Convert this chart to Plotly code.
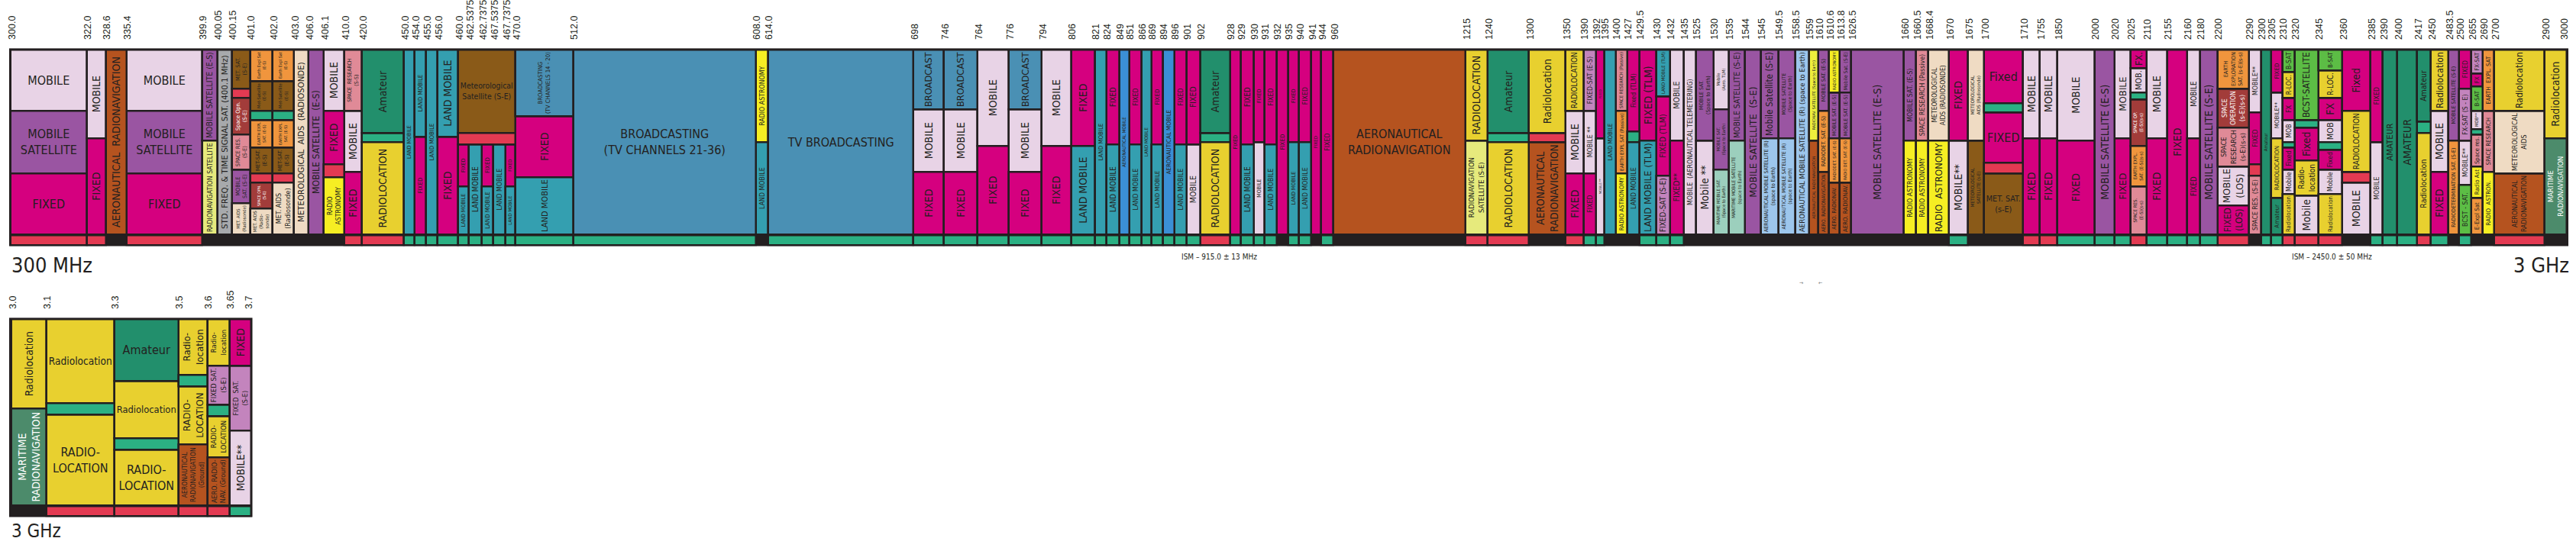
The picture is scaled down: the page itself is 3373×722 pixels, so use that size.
import plotly.graph_objects as go

# Each column: (frequency at its left edge, relative span on the chart, bottom strip, services top -> bottom)
# Each service: (label, service key, share of the column height in %)
# A label "=" continues the cell of the column to the left.

band_300_470 = [
    ("300.0", 100, "red", [("MOBILE", "mobile", 33), ("MOBILE<br>SATELLITE", "mobsat", 34), ("FIXED", "fixed", 33)]),
    ("322.0", 25, "red", [("MOBILE", "mobile", 48), ("FIXED", "fixed", 52)]),
    ("328.6", 27, "none", [("AERONAUTICAL  RADIONAVIGATION", "aeronav", 100)]),
    ("335.4", 99, "red", [("MOBILE", "mobile", 33), ("MOBILE<br>SATELLITE", "mobsat", 34), ("FIXED", "fixed", 33)]),
    ("399.9", 20, "none", [("MOBILE SATELLITE (E-S)", "mobsat", 49), ("RADIONAVIGATION SATELLITE", "radnavsat", 51)]),
    ("400.05", 19, "none", [("STD. FREQ. &amp; TIME SIGNAL SAT. (400.1 MHz)", "stdfreq", 100)]),
    ("400.15", 24, "none", [("MET. SAT.<br>(S-E)", "metsat", 21), ("", "red", 5), ("Space Opn.<br>(S-E)", "spaceop", 20),
                            ("SPACE RES.<br>(S-E)", "spaceres", 19), ("MOBILE<br>SAT. (S-E)", "mobsat", 18),
                            ("MET. AIDS<br>(Radiosonde)", "metaids", 17)]),
    ("401.0", 30, "none", [("Earth Expl Sat<br>(E-S)", "eess", 17), ("Met-Satellite<br>(E-S)", "metsat", 16), ("", "green", 5),
                           ("EARTH EXPL<br>SAT. (E-S)", "eess", 15), ("MET-SAT.<br>(E-S)", "metsat", 14), ("", "red", 5),
                           ("SPACE OPN.<br>(S-E)", "spaceop", 14), ("MET. AIDS<br>(Radio-<br>sonde)", "metaids", 14)]),
    ("402.0", 28, "none", [("Earth Expl Sat<br>(E-S)", "eess", 17), ("Met-Satellite<br>(E-S)", "metsat", 16), ("", "green", 5),
                           ("EARTH EXPL.<br>SAT. (E-S)", "eess", 15), ("MET-SAT.<br>(E-S)", "metsat", 14), ("", "red", 5),
                           ("MET. AIDS<br>(Radiosonde)", "metaids", 28)]),
    ("403.0", 19, "none", [("METEOROLOGICAL  AIDS  (RADIOSONDE)", "metaids", 100)]),
    ("406.0", 20, "none", [("MOBILE SATELLITE  (E-S)", "mobsat", 100)]),
    ("406.1", 27, "none", [("MOBILE", "mobile", 33), ("FIXED", "fixed", 29), ("", "red", 7), ("RADIO<br>ASTRONOMY", "radioastro", 31)]),
    ("410.0", 23, "red", [("SPACE  RESEARCH<br>(S-S)", "spaceres", 33), ("MOBILE", "mobile", 33), ("FIXED", "fixed", 34)]),
    ("420.0", 55, "red", [("Amateur", "amateur", 45), ("", "green", 5), ("RADIOLOCATION", "radioloc", 50)]),
    ("450.0", 14, "green", [("LAND MOBILE", "landmob", 100)]),
    ("454.0", 15, "green", [("LAND MOBILE", "landmob", 47), ("FIXED", "fixed", 53)]),
    ("455.0", 15, "green", [("LAND MOBILE", "landmob", 100)]),
    ("456.0", 27, "green", [("LAND MOBILE", "landmob", 47), ("FIXED", "fixed", 53)]),
    ("460.0", 14, "green", [("Meteorological<br>Satellite (S-E)", "metsat", 45), ("", "red", 6), ("FIXED", "fixed", 23), ("LAND MOBILE", "landmob", 26)]),
    ("462.5375", 17, "green", [("=", "metsat", 45), ("=", "red", 6), ("LAND MOBILE", "landmob", 49)]),
    ("462.7375", 15, "green", [("=", "metsat", 45), ("=", "red", 6), ("FIXED", "fixed", 23), ("LAND MOBILE", "landmob", 26)]),
    ("467.5375", 16, "green", [("=", "metsat", 45), ("=", "red", 6), ("LAND MOBILE", "landmob", 49)]),
    ("467.7375", 13, "green", [("=", "metsat", 45), ("=", "red", 6), ("FIXED", "fixed", 23), ("LAND MOBILE", "landmob", 26)]),
]

band_470_960 = [
    ("470.0", 76, "green", [("BROADCASTING<br>(TV CHANNELS 14 - 20)", "bcast", 36), ("FIXED", "fixed", 33), ("LAND MOBILE", "landmob", 31)]),
    ("512.0", 239, "green", [("BROADCASTING<br>(TV CHANNELS 21-36)", "bcast", 100)]),
    ("608.0", 16, "none", [("RADIO ASTRONOMY", "radioastro", 50), ("LAND MOBILE", "landmob", 50)]),
    ("614.0", 191, "green", [("TV BROADCASTING", "bcast", 100)]),
    ("698", 40, "green", [("BROADCAST", "bcast", 32), ("MOBILE", "mobile", 34), ("FIXED", "fixed", 34)]),
    ("746", 44, "green", [("BROADCAST", "bcast", 32), ("MOBILE", "mobile", 34), ("FIXED", "fixed", 34)]),
    ("764", 41, "green", [("MOBILE", "mobile", 52), ("FIXED", "fixed", 48)]),
    ("776", 43, "green", [("BROADCAST", "bcast", 32), ("MOBILE", "mobile", 34), ("FIXED", "fixed", 34)]),
    ("794", 39, "green", [("MOBILE", "mobile", 52), ("FIXED", "fixed", 48)]),
    ("806", 31, "green", [("FIXED", "fixed", 52), ("LAND MOBILE", "landmob", 48)]),
    ("821", 15, "green", [("LAND MOBILE", "landmob", 100)]),
    ("824", 17, "green", [("FIXED", "fixed", 51), ("LAND MOBILE", "landmob", 49)]),
    ("849", 13, "green", [("AERONAUTICAL MOBILE", "aeromob", 100)]),
    ("851", 16, "green", [("FIXED", "fixed", 51), ("LAND MOBILE", "landmob", 49)]),
    ("866", 13, "green", [("LAND MOBILE", "landmob", 100)]),
    ("869", 15, "green", [("FIXED", "fixed", 51), ("LAND MOBILE", "landmob", 49)]),
    ("894", 15, "green", [("AERONAUTICAL MOBILE", "aeromob", 100)]),
    ("896", 16, "green", [("FIXED", "fixed", 51), ("LAND MOBILE", "landmob", 49)]),
    ("901", 18, "green", [("FIXED", "fixed", 51), ("MOBILE", "mobile", 49)]),
    ("902", 39, "red", [("Amateur", "amateur", 45), ("", "green", 5), ("RADIOLOCATION", "radioloc", 50)]),
    ("928", 14, "green", [("FIXED", "fixed", 100)]),
    ("929", 17, "green", [("FIXED", "fixed", 51), ("LAND MOBILE", "landmob", 49)]),
    ("930", 14, "green", [("FIXED", "fixed", 50), ("MOBILE", "mobile", 50)]),
    ("931", 16, "green", [("FIXED", "fixed", 51), ("LAND MOBILE", "landmob", 49)]),
    ("932", 15, "none", [("FIXED", "fixed", 100)]),
    ("935", 15, "green", [("FIXED", "fixed", 50), ("LAND MOBILE", "landmob", 50)]),
    ("940", 16, "green", [("FIXED", "fixed", 50), ("LAND MOBILE", "landmob", 50)]),
    ("941", 13, "none", [("FIXED", "fixed", 100)]),
    ("944", 16, "green", [("FIXED", "fixed", 100)]),
]

band_960_1710 = [
    ("960", 173, "none", [("AERONAUTICAL<br>RADIONAVIGATION", "aeronav", 100)]),
    ("1215", 29, "red", [("RADIOLOCATION", "radioloc", 49), ("RADIONAVIGATION<br>SATELLITE (S-E)", "radnavsat", 51)]),
    ("1240", 54, "red", [("Amateur", "amateur", 45), ("", "green", 5), ("RADIOLOCATION", "radioloc", 50)]),
    ("1300", 48, "none", [("Radiolocation", "radioloc", 45), ("", "red", 5), ("AERONAUTICAL<br>RADIONAVIGATION", "aeronav", 50)]),
    ("1350", 24, "red", [("RADIOLOCATION", "radioloc", 33), ("MOBILE", "mobile", 34), ("FIXED", "fixed", 33)]),
    ("1390", 16, "green", [("FIXED-SAT (E-S)", "fxsat", 33), ("MOBILE **", "mobile", 34), ("FIXED", "fixed", 33)]),
    ("1392", 11, "green", [("FIXED", "fixed", 48), ("MOBILE **", "mobile", 52)]),
    ("1395", 15, "none", [("LAND MOBILE", "landmob", 100)]),
    ("1400", 15, "none", [("SPACE RESEARCH (Passive)", "spaceres", 33), ("EARTH EXPL SAT (Passive)", "eess", 34), ("RADIO ASTRONOMY", "radioastro", 33)]),
    ("1427", 16, "none", [("Fixed (TLM)", "fixed", 44), ("", "green", 6), ("LAND MOBILE", "landmob", 50)]),
    ("1429.5", 22, "green", [("FIXED (TLM)", "fixed", 49), ("LAND MOBILE (TLM)", "landmob", 51)]),
    ("1430", 18, "green", [("LAND MOBILE (TLM)", "landmob", 25), ("FIXED (TLM)", "fixed", 43), ("FIXED-SAT (S-E)", "fxsat", 32)]),
    ("1432", 18, "green", [("MOBILE", "mobile", 49), ("FIXED**", "fixed", 51)]),
    ("1435", 16, "none", [("MOBILE  (AERONAUTICAL TELEMETERING)", "mobile", 100)]),
    ("1525", 23, "none", [("MOBILE SAT.<br>(Space to Earth)", "mobsat", 49), ("Mobile **", "mobile", 51)]),
    ("1530", 20, "none", [("Mobile<br>(Aero. TLM)", "mobile", 32), ("MOBILE SAT.<br>(Space to Earth)", "mobsat", 33),
                          ("MARITIME MOBILE SAT.<br>(Space to Earth)", "marmobsat", 35)]),
    ("1535", 21, "none", [("MOBILE SATELLITE (S-E)", "mobsat", 49), ("MARITIME MOBILE SATELLITE<br>(space to Earth)", "marmobsat", 51)]),
    ("1544", 21, "none", [("MOBILE SATELLITE  (S-E)", "mobsat", 100)]),
    ("1545", 23, "none", [("Mobile Satellite (S-E)", "mobsat", 48), ("AERONAUTICAL MOBILE SATELLITE (R)<br>(space to Earth)", "aeromobsat", 52)]),
    ("1549.5", 22, "none", [("MOBILE SATELLITE<br>(Space to Earth)", "mobsat", 48), ("AERONAUTICAL MOBILE SATELLITE (R)<br>(space to Earth)", "aeromobsat", 52)]),
    ("1558.5", 18, "none", [("AERONAUTICAL MOBILE SATELLITE (R) (space to Earth)", "aeromobsat", 100)]),
    ("1559", 13, "none", [("RADIONAV. SATELLITE (Space to Earth)", "radnavsat2", 49), ("AERONAUTICAL RADIONAVIGATION", "aeronav", 51)]),
    ("1610", 14, "none", [("MOBILE SAT. (E-S)", "mobsat", 33), ("RADIODET. SAT. (E-S)", "eess", 33), ("AERO. RADIONAVIGATION", "aeronav", 34)]),
    ("1610.6", 14, "none", [("RADIO ASTRONOMY", "radioastro", 23), ("MOBILE SAT. (E-S)", "mobsat", 25),
                            ("RADIODET. SAT. (E-S)", "eess", 24), ("AERO. RADIONAV.", "aeronav", 28)]),
    ("1613.8", 15, "none", [("Mobile Sat. (S-E)", "mobsat", 23), ("MOBILE SAT. (E-S)", "mobsat", 25),
                            ("RADIO DET. SAT. (E-S)", "eess", 24), ("AERO. RADIONAV.", "aeronav", 28)]),
    ("1626.5", 69, "none", [("MOBILE SATELLITE (E-S)", "mobsat", 100)]),
    ("1660", 16, "none", [("MOBILE SAT. (E-S)", "mobsat", 49), ("RADIO ASTRONOMY", "radioastro", 51)]),
    ("1660.5", 16, "none", [("SPACE RESEARCH (Passive)", "spaceres", 49), ("RADIO ASTRONOMY", "radioastro", 51)]),
    ("1668.4", 27, "none", [("METEOROLOGICAL<br>AIDS (RADIOSONDE)", "metaids", 49), ("RADIO  ASTRONOMY", "radioastro", 51)]),
    ("1670", 25, "green", [("FIXED", "fixed", 49), ("MOBILE**", "mobile", 51)]),
    ("1675", 21, "none", [("METEOROLOGICAL<br>AIDS (Radiosonde)", "metaids", 49), ("METEOROLOGICAL<br>SATELLITE (s-E)", "metsat", 51)]),
    ("1700", 51, "none", [("Fixed", "fixed", 29), ("", "green", 5), ("FIXED", "fixed", 27), ("", "red", 6), ("MET. SAT.<br>(s-E)", "metsat", 33)]),
]

band_1710_3000 = [
    ("1710", 22, "red", [("MOBILE", "mobile", 48), ("FIXED", "fixed", 52)]),
    ("1755", 23, "red", [("MOBILE", "mobile", 48), ("FIXED", "fixed", 52)]),
    ("1850", 49, "green", [("MOBILE", "mobile", 49), ("FIXED", "fixed", 51)]),
    ("2000", 26, "green", [("MOBILE SATELLITE (E-S)", "mobsat", 100)]),
    ("2020", 21, "green", [("MOBILE", "mobile", 48), ("FIXED", "fixed", 52)]),
    ("2025", 21, "red", [("FX.", "fixed", 10), ("MOB.", "mobile", 13), ("", "green", 4), ("SPACE OP.<br>(E-S)(s-s)", "spaceop", 25),
                         ("EARTH EXPL.<br>SAT. (E-S)(s-s)", "eess", 22), ("SPACE RES.<br>(E-S)(s-s)", "spaceres", 26)]),
    ("2110", 27, "green", [("MOBILE", "mobile", 48), ("FIXED", "fixed", 52)]),
    ("2155", 26, "green", [("FIXED", "fixed", 100)]),
    ("2160", 17, "green", [("MOBILE", "mobile", 48), ("FIXED", "fixed", 52)]),
    ("2180", 23, "green", [("MOBILE SATELLITE (S-E)", "mobsat", 100)]),
    ("2200", 41, "red", [("EARTH<br>EXPLORATION<br>SAT. (s-E)(s-s)", "eess", 21), ("SPACE<br>OPERATION<br>(s-E)(s-s)", "spaceop", 21),
                         ("SPACE<br>RESEARCH<br>(s-E)(s-s)", "spaceres", 21), ("MOBILE<br>(LOS)", "mobile", 21), ("FIXED<br>(LOS)", "fixed", 16)]),
    ("2290", 16, "none", [("MOBILE**", "mobile", 34), ("FIXED", "fixed", 28), ("", "red", 6), ("SPACE RES. (S-E)", "spaceres", 32)]),
    ("2300", 13, "green", [("Amateur", "amateur", 100)]),
    ("2305", 15, "green", [("FIXED", "fixed", 23), ("MOBILE**", "mobile", 25), ("RADIOLOCATION", "radioloc", 32), ("Amateur", "amateur", 20)]),
    ("2310", 16, "red", [("B-SAT", "bsat", 12), ("R-LOC.", "radioloc", 14), ("FX", "fixed", 12), ("MOB", "mobile", 12), ("", "green", 3),
                         ("Fixed", "fixed", 12), ("Mobile", "mobile", 13), ("Radiolocation", "radioloc", 22)]),
    ("2320", 31, "red", [("BCST-SATELLITE", "bsat", 38), ("", "green", 4), ("Fixed", "fixed", 18), ("Radio-<br>location", "radioloc", 19),
                         ("Mobile", "mobile", 21)]),
    ("2345", 32, "red", [("B-SAT", "bsat", 11), ("R-LOC.", "radioloc", 15), ("FX", "fixed", 12), ("MOB", "mobile", 12), ("", "green", 4),
                         ("Fixed", "fixed", 11), ("Mobile", "mobile", 13), ("Radiolocation", "radioloc", 22)]),
    ("2360", 37, "none", [("Fixed", "fixed", 33), ("RADIOLOCATION", "radioloc", 33), ("", "red", 6), ("MOBILE", "mobile", 28)]),
    ("2385", 16, "green", [("FIXED", "fixed", 50), ("MOBILE", "mobile", 50)]),
    ("2390", 19, "green", [("AMATEUR", "amateur", 100)]),
    ("2400", 26, "green", [("AMATEUR", "amateur", 100)]),
    ("2417", 18, "red", [("Amateur", "amateur", 39), ("", "green", 6), ("Radiolocation", "radioloc", 55)]),
    ("2450", 23, "green", [("Radiolocation", "radioloc", 33), ("MOBILE", "mobile", 33), ("FIXED", "fixed", 34)]),
    ("2483.5", 14, "none", [("MOBILE SATELLITE (S-E)", "mobsat", 49), ("RADIODETERMINATION SAT. (S-E)", "eess", 51)]),
    ("2500", 16, "green", [("FIXED", "fixed", 21), ("FX-SAT (S - E)", "fxsat", 28), ("MOBILE**", "mobile", 24), ("BCST - SAT.", "bsat", 27)]),
    ("2655", 15, "none", [("FX-SAT", "fxsat", 13), ("FX", "fixed", 7), ("B-SAT", "bsat", 13), ("MOB**", "mobile", 10), ("", "green", 3),
                          ("Space res.", "spaceres", 17), ("Radio Ast", "radioastro", 17), ("E-Expl Sat", "eess", 20)]),
    ("2690", 15, "none", [("EARTH  EXPL. SAT", "eess", 33), ("SPACE RESEARCH", "spaceres", 33), ("RADIO  ASTRON.", "radioastro", 34)]),
    ("2700", 66, "red", [("Radiolocation", "radioloc", 33), ("METEOROLOGICAL<br>AIDS", "metaids", 34), ("AERONAUTICAL<br>RADIONAVIGATION", "aeronav", 33)]),
    ("2900", 29, "none", [("Radiolocation", "radioloc", 48), ("MARITIME<br>RADIONAVIGATION", "marnav", 52)]),
]
top_end_label = "3000"

band_3000_3700 = [
    ("3.0", 46, "none", [("Radiolocation", "radioloc", 48), ("MARITIME<br>RADIONAVIGATION", "marnav", 52)]),
    ("3.1", 89, "red", [("Radiolocation", "radioloc", 45), ("", "green", 6), ("RADIO-<br>LOCATION", "radioloc", 49)]),
    ("3.3", 84, "red", [("Amateur", "amateur", 33), ("Radiolocation", "radioloc", 31), ("", "green", 6), ("RADIO-<br>LOCATION", "radioloc", 30)]),
    ("3.5", 38, "red", [("Radio-<br>location", "radioloc", 30), ("", "green", 6), ("RADIO-<br>LOCATION", "radioloc", 31),
                        ("AERONAUTICAL<br>RADIONAVIGATION<br>(Ground)", "aeronav", 33)]),
    ("3.6", 29, "red", [("Radio-<br>location", "radioloc", 25), ("FIXED SAT.<br>(S-E)", "fxsat", 21), ("", "green", 6),
                        ("RADIO-<br>LOCATION", "radioloc", 22), ("AERO. RADIO-<br>NAV. (Ground)", "aeronav", 26)]),
    ("3.65", 28, "green", [("FIXED", "fixed", 25), ("FIXED  SAT.<br>(S-E)", "fxsat", 35), ("MOBILE**", "mobile", 40)]),
]
bottom_end_label = "3.7"

SERVICE_COLORS = {
    "fixed": "#d5007f", "mobile": "#e8d3e6", "mobsat": "#9a55a2", "aeronav": "#b5531f",
    "radioloc": "#e8d02f", "amateur": "#228f6c", "green": "#2bb083", "red": "#e33a52",
    "landmob": "#349fb0", "bcast": "#4a90b4", "radioastro": "#f6ee23", "spaceres": "#e08a97",
    "eess": "#f0953d", "metsat": "#8a5a18", "metaids": "#efdbc3", "spaceop": "#a23c3a",
    "radnavsat": "#e6ea7c", "radnavsat2": "#eeef3c", "stdfreq": "#a7a9ac", "aeromob": "#3b8fd6",
    "marmobsat": "#9ccfbd", "aeromobsat": "#9dc6ec", "fxsat": "#c384bd", "bsat": "#5cbd45",
    "marnav": "#4c8b6b",
}
LIGHT_TEXT = {"marnav", "spaceop"}
DARK = "#231f20"
FONT = "Liberation Sans Narrow, Arial Narrow, DejaVu Sans Condensed, Liberation Sans, sans-serif"
FLAT_COLUMNS = {"300.0", "335.4", "512.0", "614.0", "960", "1700", "3.1", "3.3"}
W, H = 3373, 722


def layout_cells(columns):
    cells, strips, ticks, x = [], [], [], 0.0
    for freq, span, strip, services in columns:
        ticks.append((x, freq))
        top = 100.0
        for label, key, share in services:
            y0 = top - share
            if label == "=":
                for c in reversed(cells):
                    if c["x1"] == x and c["y1"] == top:
                        c["x1"] = x + span
                        c["merged"] = True
                        break
            else:
                cells.append(dict(x0=x, x1=x + span, y0=y0, y1=top, label=label, key=key, col=freq, merged=False))
            top = y0
        if strip != "none":
            strips.append((x, x + span, strip))
        x += span
    return cells, strips, ticks, x


def add_panel(fig, columns, end_label, xa, ya):
    cells, strips, ticks, total = layout_cells(columns)
    groups = {}
    for c in cells:
        flat = c["col"] in FLAT_COLUMNS or c["merged"]
        groups.setdefault((c["key"], flat), []).append(c)
    for (key, flat), group in groups.items():
        fig.add_trace(go.Bar(
            x=[(c["x0"] + c["x1"]) / 2 for c in group],
            y=[c["y1"] - c["y0"] for c in group],
            base=[c["y0"] for c in group],
            width=[c["x1"] - c["x0"] for c in group],
            text=[c["label"] for c in group],
            textposition="inside", insidetextanchor="middle",
            textangle=0 if flat else -90,
            textfont=dict(family=FONT, size=16 if flat else 14,
                          color="white" if key in LIGHT_TEXT else DARK),
            marker=dict(color=SERVICE_COLORS[key], line=dict(color=DARK, width=2.5)),
            xaxis=xa, yaxis=ya, hoverinfo="skip", showlegend=False))
    for colour in ("red", "green"):
        seg = [s for s in strips if s[2] == colour]
        fig.add_trace(go.Bar(
            x=[(a + b) / 2 for a, b, _ in seg], y=[5.2] * len(seg), base=[-5.5] * len(seg),
            width=[b - a for a, b, _ in seg],
            marker=dict(color=SERVICE_COLORS[colour], line=dict(color=DARK, width=2.5)),
            xaxis=xa, yaxis=ya, hoverinfo="skip", showlegend=False))
    tickvals = [t[0] + 1.5 for t in ticks] + [total - 3]
    ticktext = [t[1] for t in ticks] + [end_label]
    return total, tickvals, ticktext


fig = go.Figure()
top_columns = band_300_470 + band_470_960 + band_960_1710 + band_1710_3000
top_total, top_vals, top_text = add_panel(fig, top_columns, top_end_label, "x", "y")
bot_total, bot_vals, bot_text = add_panel(fig, band_3000_3700, bottom_end_label, "x2", "y2")

tick_style = dict(side="top", tickangle=-90, ticks="outside", ticklen=8, tickcolor="rgba(0,0,0,0)",
                  tickfont=dict(family="Liberation Sans Narrow, Arial Narrow, Liberation Sans, sans-serif",
                                size=12.5, color=DARK),
                  showgrid=False, zeroline=False, showline=False, fixedrange=True)

fig.update_layout(
    width=W, height=H, margin=dict(l=0, r=0, t=0, b=0),
    paper_bgcolor="white", plot_bgcolor=DARK, barmode="overlay", bargap=0,
    xaxis=dict(domain=[9 / W, 3365 / W], range=[-2, top_total + 2], anchor="y",
               tickvals=top_vals, ticktext=top_text, **tick_style),
    yaxis=dict(domain=[1 - 318 / H, 1 - 56 / H], range=[-6.1, 100.8], visible=False, fixedrange=True),
    xaxis2=dict(domain=[9 / W, 328 / W], range=[-3, bot_total + 2], anchor="y2",
                tickvals=bot_vals, ticktext=bot_text, **tick_style),
    yaxis2=dict(domain=[1 - 677 / H, 1 - 413 / H], range=[-6.1, 100.8], visible=False, fixedrange=True,
                anchor="x2"),
    annotations=[
        dict(text="300 MHz", x=10 / W, y=1 - 326 / H, xref="paper", yref="paper", xanchor="left", yanchor="top",
             showarrow=False, font=dict(family=FONT, size=27, color=DARK)),
        dict(text="3 GHz", x=3368 / W, y=1 - 326 / H, xref="paper", yref="paper", xanchor="right", yanchor="top",
             showarrow=False, font=dict(family=FONT, size=27, color=DARK)),
        dict(text="3 GHz", x=10 / W, y=1 - 680 / H, xref="paper", yref="paper", xanchor="left", yanchor="top",
             showarrow=False, font=dict(family=FONT, size=24, color=DARK)),
        dict(text="ISM – 915.0 ± 13 MHz", x=1596 / W, y=1 - 332 / H, xref="paper", yref="paper",
             showarrow=False, font=dict(family=FONT, size=10, color=DARK)),
        dict(text="ISM – 2450.0 ± 50 MHz", x=3110 / W, y=1 - 332 / H, xref="paper", yref="paper",
             showarrow=False, font=dict(family=FONT, size=10, color=DARK)),
        dict(text="→", x=2364 / W, y=1 - 367 / H, xref="paper", yref="paper",
             showarrow=False, font=dict(family=FONT, size=7, color="#777777")),
        dict(text="←", x=2389 / W, y=1 - 367 / H, xref="paper", yref="paper",
             showarrow=False, font=dict(family=FONT, size=7, color="#777777")),
    ],
)

fig.write_html("out.html", config={"displayModeBar": False},
               post_script="document.body.style.margin='0';document.body.style.overflow='hidden';")
